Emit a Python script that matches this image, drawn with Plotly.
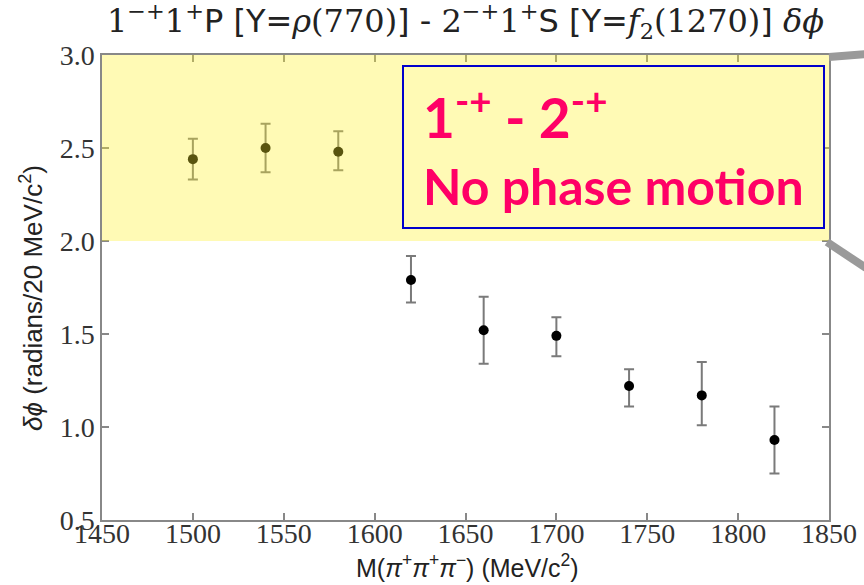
import plotly.graph_objects as go

# Data
mass = [1500, 1540, 1580, 1620, 1660, 1700, 1740, 1780, 1820]
dphi = [2.44, 2.50, 2.48, 1.79, 1.52, 1.49, 1.22, 1.17, 0.93]
err_up = [0.11, 0.13, 0.11, 0.13, 0.18, 0.10, 0.09, 0.18, 0.18]
err_dn = [0.11, 0.13, 0.10, 0.12, 0.18, 0.11, 0.11, 0.16, 0.18]
x_ticks = [1450, 1500, 1550, 1600, 1650, 1700, 1750, 1800, 1850]
y_ticks = [0.5, 1.0, 1.5, 2.0, 2.5, 3.0]
band = [2.0, 3.0]

W, H = 864, 585
L, R, T, B = 102, 35, 55, 65
pw, ph = W - L - R, H - T - B

def px(xp):
    return (xp - L) / pw

def py(yp):
    return 1 - (yp - T) / ph

SERIF = "Liberation Serif, Times New Roman, serif"
SANS = "Liberation Sans, Arial, sans-serif"

fig = go.Figure()
fig.add_trace(go.Scatter(
    x=mass, y=dphi, mode="markers",
    marker=dict(color="black", size=10),
    error_y=dict(type="data", symmetric=False, array=err_up, arrayminus=err_dn,
                 color="#7a7a7a", thickness=2, width=5),
    showlegend=False,
))

def s(t):
    return f"<span style=\"font-family:'DejaVu Serif'\">{t}</span>"

title = (s("1<sup>−+</sup>1<sup>+</sup>") + "P [Y=" + s("<i>ρ</i>(770)") + "] - "
         + s("2<sup>−+</sup>1<sup>+</sup>") + "S [Y=" + s("<i>f</i><sub>2</sub>(1270)")
         + "] " + s("<i>δϕ</i>"))

shapes = [
    # translucent yellow band over the plot
    dict(type="rect", xref="x domain", yref="y", x0=0, x1=1, y0=band[0], y1=band[1],
         fillcolor="#FFF22B", opacity=0.35, line=dict(width=0), layer="above"),
    # text box
    dict(type="rect", xref="paper", yref="paper", x0=px(403), x1=px(824),
         y0=py(228), y1=py(66), fillcolor="#FFFAB5",
         line=dict(color="#0000CC", width=2), layer="above"),
    # gray callout lines
    dict(type="line", xref="paper", yref="paper", x0=px(829), y0=py(57),
         x1=px(866), y1=py(54), line=dict(color="#9a9a9a", width=8), layer="above"),
    dict(type="line", xref="paper", yref="paper", x0=px(827), y0=py(242),
         x1=px(866), y1=py(268), line=dict(color="#9a9a9a", width=8), layer="above"),
]

annotations = [
    dict(xref="paper", yref="paper", x=px(421), y=py(113), xanchor="left", yanchor="middle",
         text="1<sup>-+</sup> - 2<sup>-+</sup>", showarrow=False,
         font=dict(family="Lato", size=55, color="#FF0066", weight="bold")),
    dict(xref="paper", yref="paper", x=px(421), y=py(186), xanchor="left", yanchor="middle",
         text="No phase motion", showarrow=False,
         font=dict(family="Lato", size=50, color="#FF0066", weight="bold")),
    # axis titles
    dict(xref="paper", yref="paper", x=px(467), y=py(566), xanchor="center", yanchor="middle",
         text="M(<i>π</i><sup>+</sup><i>π</i><sup>+</sup><i>π</i><sup>−</sup>) (MeV/c<sup>2</sup>)",
         showarrow=False, font=dict(family=SANS, size=25, color="#222")),
    dict(xref="paper", yref="paper", x=px(31), y=py(298), xanchor="center", yanchor="middle",
         text="<i>δϕ</i> (radians/20 MeV/c<sup>2</sup>)", textangle=-90,
         showarrow=False, font=dict(family=SANS, size=26, color="#222")),
]

fig.update_layout(
    width=W, height=H,
    margin=dict(l=L, r=R, t=T, b=B, autoexpand=False),
    paper_bgcolor="white", plot_bgcolor="white",
    title=dict(text=title, x=0.5, xref="paper", xanchor="center",
               y=1 - 21 / H, yref="container", yanchor="middle", automargin=False,
               font=dict(family="DejaVu Sans, sans-serif", size=32, color="#222")),
    shapes=shapes, annotations=annotations,
)
fig.update_xaxes(
    range=[1450, 1850], tickvals=x_ticks, ticks="inside", ticklen=7, tickwidth=1.5,
    tickcolor="#888", showline=True, linecolor="#888", linewidth=1.5, mirror="ticks",
    showgrid=False, zeroline=False, automargin=False, ticklabelstandoff=-12,
    tickfont=dict(family=SERIF, size=28, color="#333"),
)
fig.update_yaxes(
    range=[0.5, 3.0], tickvals=y_ticks, tickformat=".1f", ticks="inside", ticklen=7,
    tickwidth=1.5, tickcolor="#888", showline=True, linecolor="#888", linewidth=1.5,
    mirror="ticks", showgrid=False, zeroline=False, automargin=False,
    tickfont=dict(family=SERIF, size=28, color="#333"),
)

fig.write_html("out.html")
